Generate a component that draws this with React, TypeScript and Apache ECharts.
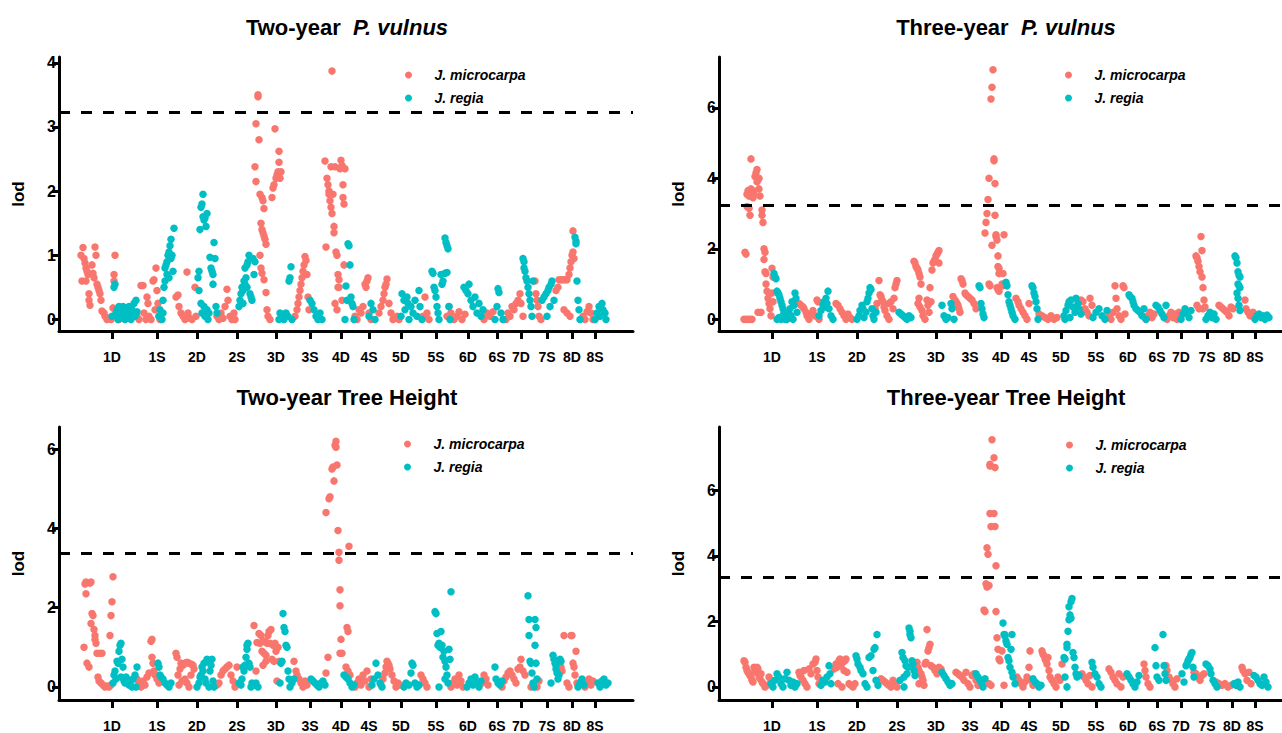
import React, { useEffect, useRef } from "react";
import * as echarts from "echarts";

const RED = "#F8766D";
const TEAL = "#00BFC4";
const FONT = "Arial, 'Liberation Sans', Helvetica, sans-serif";

// chromosome tick positions (cumulative position units) and labels
const chromTicks = [53, 98, 138, 178, 217, 251, 282, 310, 342, 377, 409, 438, 462, 488, 513, 536];
const chromLabels = ["1D", "1S", "2D", "2S", "3D", "3S", "4D", "4S", "5D", "5S", "6D", "6S", "7D", "7S", "8D", "8S"];

const panelTitles = [
  ["Two-year  ", "P. vulnus"],
  ["Three-year  ", "P. vulnus"],
  ["Two-year Tree Height", ""],
  ["Three-year Tree Height", ""],
];
const thresholds = [3.23, 3.23, 3.38, 3.35];
const yTickValues = [[0, 1, 2, 3, 4], [0, 2, 4, 6], [0, 2, 4, 6], [0, 2, 4, 6]];
const yRanges = [[-0.18, 4.09], [-0.33, 7.44], [-0.33, 6.56], [-0.4, 7.94]];
const xMaxes = [574, 563, 574, 563];

// ---------- Two-year P. vulnus ----------
const tlRed = [[22,1.0],[23,0.6],[24,1.12],[25,0.95],[26,0.88],[27,0.8],[27,0.6],[28,0.75],[29,0.7],[30,0.4],[30,0.3],[31,0.22],[33,0.85],[34,0.72],[35,0.65],[36,1.13],[37,1.0],[38,0.55],[39,0.5],[40,0.45],[41,0.4],[42,0.3],[43,0.13],[45,0.1],[46,0.05],[48,0.0],[50,0.02],[52,0.0],[54,0.18],[55,0.6],[55,0.7],[56,1.0],[58,0.05],[60,0.0],
[78,0.05],[80,0.0],[82,0.53],[84,0.53],[85,0.1],[87,0.0],[88,0.35],[89,0.25],[90,0.05],[92,0.0],[94,0.6],[95,0.62],[96,0.15],[97,0.8],[98,0.45],[99,0.25],[100,0.05],[101,0.0],
[117,0.35],[119,0.38],[120,0.2],[122,0.1],[124,0.05],[126,0.0],[128,0.74],[129,0.1],[131,0.02],[133,0.0],[136,0.5],[137,0.05],
[158,0.05],[160,0.0],[162,0.1],[164,0.02],[166,0.2],[168,0.47],[169,0.3],[171,0.05],[173,0.0],[175,0.1],[176,0.0],
[196,2.38],[197,2.15],[197,3.05],[199,3.5],[199,3.47],[200,2.8],[201,1.95],[203,1.9],[204,1.85],[205,1.73],[202,1.5],[203,1.4],[204,1.35],[205,1.3],[206,1.25],[207,1.17],[201,1.0],[202,0.8],[203,0.72],[205,0.62],[207,0.42],[208,0.15],[209,0.05],[211,0.0],
[213,1.9],[214,2.05],[215,2.1],[216,2.97],[217,2.2],[218,2.25],[219,2.3],[220,2.62],[220,2.45],[221,2.2],[222,2.3],
[236,0.05],[238,0.15],[239,0.25],[240,0.35],[241,0.45],[242,0.55],[243,0.65],[244,0.75],[245,0.85],[246,0.98],[247,0.92],[248,0.7],[249,0.35],[250,0.15],
[266,2.47],[267,1.13],[268,2.2],[269,2.1],[270,2.0],[270,1.95],[271,1.85],[272,1.75],[272,2.38],[273,3.87],[273,1.65],[274,1.95],[275,1.45],[275,1.35],[276,2.38],[277,1.05],[278,1.0],[279,0.7],[279,0.5],[280,0.62],[281,2.35],[282,2.48],[283,2.4],[283,0.3],[284,2.1],[284,1.9],[285,1.8],[285,0.85],[286,2.35],[276,0.25],[278,0.15],[280,0.5],
[296,0.05],[298,0.0],[300,0.15],[302,0.1],[304,0.2],[306,0.55],[307,0.5],[308,0.6],[309,0.65],[310,0.1],[312,0.0],
[320,0.1],[322,0.2],[324,0.3],[325,0.4],[326,0.5],[327,0.55],[328,0.63],[330,0.25],[332,0.1],[334,0.0],[338,0.05],[340,0.0],
[364,0.05],[366,0.35],[368,0.1],[370,0.0],
[388,0.05],[390,0.2],[392,0.1],[395,0.0],[398,0.05],[400,0.12],[403,0.0],[406,0.08],
[425,0.0],[428,0.1],[431,0.05],[434,0.12],
[447,0.0],[449,0.1],[451,0.05],[453,0.2],[455,0.15],[457,0.25],[459,0.3],[461,0.4],[462,0.25],[464,0.05],
[476,0.6],[477,0.4],[478,0.3],[479,0.2],[480,0.05],[482,0.0],
[497,0.45],[499,0.5],[500,0.62],[502,0.62],[504,0.62],[506,0.62],[508,0.62],[510,0.7],[511,0.8],[512,0.9],[513,1.0],[514,1.05],[514,1.38],[515,0.95],[505,0.15],[508,0.1],[511,0.05],
[524,0.05],[526,0.0],[528,0.12],[530,0.2],[532,0.1],[534,0.0]];

const tlTeal = [[53,0.05],[55,0.5],[56,0.55],[57,0.1],[58,0.15],[59,0.0],[60,0.2],[61,0.05],[62,0.1],[63,0.15],[64,0.2],[65,0.05],[66,0.0],[67,0.12],[68,0.18],[69,0.08],[70,0.2],[71,0.1],[72,0.0],[73,0.15],[75,0.25],[76,0.05],[77,0.3],[78,0.12],
[103,0.0],[104,0.1],[104,0.3],[105,0.5],[106,0.6],[106,0.8],[107,0.85],[108,0.9],[108,0.7],[109,1.0],[110,1.05],[110,0.65],[111,1.15],[112,1.25],[112,0.95],[113,1.0],[114,0.75],[115,1.42],[100,0.05],[101,0.15],
[140,0.75],[139,0.65],[141,1.4],[142,1.75],[143,1.8],[144,1.95],[144,1.6],[145,1.55],[146,1.58],[147,1.45],[148,1.65],[140,0.45],[142,0.25],[143,0.1],[145,0.2],[146,0.05],[148,0.15],[149,0.0],[150,0.1],
[151,0.97],[152,0.8],[153,0.75],[154,0.7],[154,0.55],[155,1.2],[156,0.95],[157,0.2],[158,0.1],
[180,0.2],[181,0.3],[182,0.4],[183,0.5],[184,0.45],[185,0.6],[186,0.55],[186,0.8],[187,0.65],[188,0.85],[188,0.5],[189,0.9],[190,1.0],[191,0.4],[192,0.35],[193,0.3],[194,0.95],[195,0.7],[196,0.9],[184,0.25],
[220,0.0],[221,0.1],[223,0.05],[225,0.0],[227,0.1],[229,0.05],[230,0.6],[231,0.65],[232,0.82],[233,0.0],
[251,0.3],[253,0.25],[255,0.15],[257,0.05],[259,0.0],[261,0.1],[263,0.0],
[287,0.52],[288,0.3],[289,1.18],[290,1.15],[291,0.85],[292,0.35],[293,0.25],[294,0.2],[295,0.0],[286,0.0],
[310,0.05],[312,0.25],[314,0.15],[316,0.0],
[342,0.05],[343,0.4],[345,0.3],[346,0.15],[348,0.35],[349,0.25],[350,0.0],[352,0.2],[354,0.1],[356,0.3],[358,0.05],[360,0.45],[361,0.2],[363,0.0],
[373,0.75],[374,0.72],[375,0.5],[376,0.45],[377,0.35],[378,0.2],[379,0.1],[380,0.0],[382,0.7],[383,0.55],[384,0.6],[386,1.27],[387,1.2],[388,1.15],[389,1.1],[386,0.72],[388,0.73],[390,0.2],[391,0.0],
[405,0.5],[407,0.45],[409,0.4],[410,0.55],[412,0.3],[414,0.2],[416,0.35],[418,0.1],[420,0.25],[422,0.05],[424,0.15],
[436,0.0],[438,0.2],[439,0.48],[440,0.42],[442,0.1],[444,0.0],
[464,0.95],[465,0.9],[465,0.8],[466,0.75],[467,0.65],[468,0.6],[469,0.5],[470,0.4],[471,0.3],[472,0.2],[473,0.05],[474,0.6],
[483,0.3],[485,0.35],[487,0.4],[488,0.05],[489,0.45],[490,0.5],[491,0.2],[492,0.55],[493,0.6],[495,0.3],
[516,1.28],[517,1.22],[517,1.18],[518,0.6],[519,0.3],[520,0.15],[521,0.0],
[536,0.0],[538,0.1],[540,0.2],[541,0.05],[543,0.25],[544,0.15],[546,0.1],[547,0.0]];

// ---------- Three-year P. vulnus ----------
const trRed = [[25,0.0],[27,0.0],[29,0.0],[31,0.0],[33,0.0],[26,1.9],[27,1.85],[28,3.2],[28,3.55],[29,3.65],[30,3.5],[30,3.15],[31,2.95],[32,4.55],[32,3.7],[33,3.6],[34,3.45],[34,3.65],[35,3.55],[36,4.05],[37,4.15],[38,4.25],[38,3.9],[39,3.95],[40,4.0],[40,3.7],[41,3.5],[39,0.2],[42,0.2],[43,3.1],[43,2.95],[44,2.75],[45,2.0],[46,1.9],[45,1.7],[46,1.35],[47,1.3],[47,1.0],[48,0.8],[49,0.6],[50,0.45],[51,0.3],[52,0.1],[53,1.45],[54,1.2],[53,0.75],[54,0.5],
[80,0.45],[82,0.4],[84,0.35],[85,0.3],[87,0.2],[88,0.1],[90,0.0],[92,0.15],[94,0.25],[96,0.1],[98,0.55],[99,0.5],[100,0.0],
[117,0.45],[119,0.4],[121,0.3],[123,0.2],[125,0.1],[127,0.0],[129,0.15],[131,0.05],[133,0.0],
[156,0.3],[158,0.45],[160,1.1],[161,0.7],[162,0.65],[163,0.55],[164,0.5],[165,0.35],[166,0.25],[168,0.1],[170,0.45],[172,0.5],[174,0.3],[175,0.6],[176,0.9],[177,1.0],[178,1.1],[170,0.0],
[195,1.65],[196,1.6],[197,1.5],[198,1.45],[199,1.4],[200,1.3],[201,1.2],[202,1.0],[200,0.6],[199,0.45],[201,0.35],[203,0.25],[204,0.1],[206,0.0],[208,0.55],[209,0.4],[210,0.2],
[211,0.9],[213,1.4],[214,1.6],[215,1.65],[216,1.7],[217,1.8],[218,1.85],[219,1.9],[220,1.95],[220,1.6],[212,0.5],
[234,0.65],[236,0.55],[237,0.5],[238,0.45],[239,0.4],[240,0.3],[241,0.2],[242,1.15],[243,1.1],[244,1.0],[246,0.75],[247,0.7],[249,0.65],[251,0.6],[253,0.55],[255,0.45],[257,0.3],
[266,2.45],[267,2.75],[268,3.0],[269,3.4],[270,4.0],[270,1.0],[271,0.95],[272,6.25],[273,2.1],[273,6.58],[274,7.08],[275,4.55],[275,4.5],[276,3.85],[276,2.95],[277,2.4],[277,2.35],[278,2.25],[279,1.8],[279,1.5],[280,1.45],[280,1.3],[278,0.9],[279,0.85],[280,0.8],[285,2.4],[284,1.3],[283,1.0],[284,0.95],
[297,0.6],[299,0.5],[300,0.4],[302,0.3],[304,0.2],[306,0.1],[308,0.0],[310,0.45],
[320,0.15],[323,0.1],[326,0.05],[329,0.0],[332,0.1],[335,0.0],[338,0.05],
[362,0.55],[364,0.5],[366,0.3],[368,0.2],[370,0.1],[371,0.6],[373,0.4],
[390,0.1],[392,0.0],[394,0.2],[396,0.95],[397,0.6],[398,0.3],[400,0.1],[402,0.0],[404,0.95],[405,0.9],[406,0.15],
[427,0.0],[429,0.1],[431,0.2],[433,0.05],[435,0.15],
[448,0.0],[450,0.1],[452,0.2],[454,0.05],[456,0.15],[458,0.0],[460,0.2],
[477,1.8],[478,1.75],[479,1.65],[480,1.5],[481,1.35],[482,2.35],[483,1.95],[483,1.2],[484,0.9],[485,0.55],[486,0.35],[484,0.3],[478,0.4],[480,0.3],
[500,0.4],[502,0.35],[504,0.3],[506,0.25],[508,0.2],[510,0.1],[512,0.35],[514,0.3],
[526,0.55],[527,0.3],[529,0.2],[531,0.1],[534,0.2]];

const trTeal = [[55,1.3],[56,1.2],[57,1.15],[58,0.8],[59,0.75],[60,0.7],[61,0.6],[62,0.5],[63,0.4],[64,0.3],[65,0.2],[66,0.0],[58,0.0],[60,0.05],[62,0.0],[64,0.1],[68,0.0],[70,0.15],[71,0.3],[72,0.1],[73,0.5],[74,0.0],[75,0.4],[76,0.75],[77,0.6],[78,0.2],
[100,0.1],[102,0.25],[104,0.4],[105,0.5],[106,0.35],[107,0.6],[108,0.45],[109,0.8],[110,0.3],[112,0.1],[114,0.0],
[138,0.0],[140,0.1],[141,0.25],[143,0.4],[144,0.3],[145,0.05],[147,0.2],[148,0.5],[149,0.6],[150,0.75],[151,0.9],[152,0.85],[153,0.3],[154,0.1],[155,0.0],[157,0.2],
[180,0.2],[182,0.15],[184,0.1],[186,0.05],[188,0.0],[190,0.1],[192,0.05],
[223,0.4],[225,0.1],[227,0.0],[229,0.05],[232,0.45],[233,0.3],[235,0.0],
[260,0.95],[261,0.9],[262,0.45],[263,0.3],[264,0.15],[265,0.05],
[287,1.05],[288,0.95],[289,0.7],[290,0.5],[291,0.4],[292,0.3],[293,0.2],[294,0.1],[296,0.0],
[313,0.95],[314,0.9],[315,0.75],[316,0.65],[317,0.5],[318,0.3],[319,0.0],
[345,0.1],[347,0.25],[349,0.4],[350,0.5],[352,0.55],[354,0.35],[356,0.2],[357,0.6],[359,0.45],[360,0.3],[362,0.15],[346,0.0],[351,0.05],
[374,0.05],[377,0.2],[380,0.3],[383,0.1],[386,0.0],[388,0.25],
[410,0.7],[411,0.65],[413,0.6],[414,0.5],[415,0.4],[417,0.3],[419,0.25],[421,0.2],[423,0.1],[425,0.3],[427,0.0],
[437,0.4],[439,0.35],[441,0.25],[443,0.15],[445,0.05],[447,0.4],
[462,0.0],[464,0.15],[466,0.3],[468,0.2],[470,0.05],[472,0.25],
[487,0.0],[489,0.1],[491,0.2],[493,0.05],[495,0.15],[497,0.0],
[516,1.8],[517,1.75],[518,1.6],[519,1.35],[520,1.25],[521,1.2],[519,1.0],[520,0.95],[521,0.9],[518,0.75],[519,0.6],[520,0.4],[521,0.25],
[536,0.0],[538,0.1],[540,0.15],[542,0.05],[544,0.1],[546,0.0],[548,0.12],[550,0.05]];

// ---------- Two-year Tree Height ----------
const blRed = [[25,1.0],[26,2.6],[27,2.65],[27,2.35],[28,0.6],[30,0.5],[31,2.62],[32,2.65],[32,1.6],[33,1.85],[34,1.8],[35,1.45],[36,1.3],[36,1.2],[37,1.1],[38,0.85],[41,0.85],[43,0.85],[39,0.25],[40,0.15],[42,0.1],[44,0.05],[46,0.0],[48,0.02],[50,0.0],[52,0.05],[51,1.3],[52,1.8],[53,2.15],[54,2.78],
[78,0.2],[80,0.1],[82,0.0],[84,0.15],[86,0.05],[88,0.25],[90,0.35],[92,1.15],[93,1.2],[93,0.75],[94,0.6],[95,0.4],[96,0.3],[98,0.2],[100,0.1],
[117,0.85],[118,0.75],[119,0.3],[121,0.45],[122,0.6],[124,0.55],[126,0.6],[128,0.62],[130,0.6],[132,0.58],[134,0.55],[135,0.45],[126,0.2],[128,0.1],[130,0.0],[132,0.3],[120,0.05],[123,0.15],
[158,0.05],[160,0.1],[162,0.3],[164,0.4],[166,0.45],[168,0.5],[170,0.55],[172,0.3],[174,0.15],[176,0.0],[178,0.5],
[195,1.55],[197,0.4],[198,1.12],[200,1.35],[201,1.1],[202,1.3],[203,0.9],[204,1.15],[205,0.85],[206,1.15],[207,0.8],[208,1.1],[209,1.3],[210,1.4],[211,1.1],[212,1.45],[213,0.7],[214,1.05],[215,0.65],[216,1.1],[217,0.9],[218,0.15],[219,1.0],[220,0.65],[204,0.55],[207,0.65],
[235,0.65],[237,0.4],[238,0.3],[240,0.2],[242,0.1],[244,0.0],[246,0.15],[248,0.05],
[267,0.35],[269,0.75],[267,4.4],[270,4.75],[271,4.8],[273,5.5],[274,5.55],[275,5.2],[276,6.1],[277,6.2],[277,6.05],[278,5.6],[279,3.95],[280,3.4],[280,3.2],[281,2.45],[281,2.05],[282,1.2],[281,0.85],[283,0.85],[288,1.5],[289,1.4],[290,3.55],[287,0.5],[289,0.4],[291,0.3],
[296,0.0],[298,0.1],[300,0.2],[302,0.05],[304,0.3],[306,0.15],[308,0.4],[310,0.0],[312,0.2],
[322,0.05],[324,0.2],[326,0.35],[327,0.5],[328,0.65],[329,0.6],[330,0.55],[331,0.45],[333,0.3],[335,0.15],[337,0.0],[339,0.1],[341,0.05],
[360,0.05],[362,0.3],[364,0.2],[366,0.1],[368,0.0],
[392,0.0],[394,0.1],[396,0.2],[398,0.05],[400,0.3],[402,0.15],[404,0.0],
[423,0.1],[425,0.3],[427,0.2],[429,0.05],
[443,0.0],[445,0.15],[447,0.25],[449,0.35],[451,0.4],[453,0.3],[455,0.2],[457,0.1],[459,0.45],[461,0.5],[462,0.7],[464,0.4],[466,0.3],
[472,0.0],[474,0.05],[476,0.1],[478,0.0],[480,0.15],
[500,0.6],[502,0.5],[503,0.4],[505,1.3],[508,0.1],[510,0.0],[512,1.3],[513,1.3],[514,0.6],[515,0.5],[517,0.9],[516,0.3],[518,0.1],
[526,0.0],[528,0.1],[530,0.2],[532,0.05],[534,0.15]];

const blTeal = [[54,0.1],[55,0.3],[56,0.4],[57,0.2],[58,0.65],[59,0.6],[60,0.9],[61,1.05],[62,1.1],[63,0.7],[64,0.5],[62,0.25],[65,0.15],[66,0.1],[67,0.25],[68,0.2],[70,0.05],[72,0.15],[74,0.2],[76,0.3],[78,0.5],[77,0.0],[73,0.0],
[99,0.6],[100,0.5],[101,0.3],[102,0.25],[104,0.2],[106,0.1],[108,0.05],[110,0.0],[112,0.1],
[138,0.0],[140,0.1],[141,0.25],[142,0.3],[143,0.5],[144,0.4],[145,0.6],[146,0.2],[147,0.1],[148,0.7],[149,0.65],[150,0.0],[151,0.4],[152,0.55],[153,0.7],[154,0.15],[155,0.0],
[180,0.1],[182,0.05],[183,0.2],[184,0.5],[185,0.4],[186,0.55],[187,0.75],[188,0.95],[188,1.05],[189,1.1],[190,0.6],[191,0.5],[192,0.0],[193,0.1],[195,0.05],[197,0.1],[199,0.0],
[221,0.1],[222,0.6],[223,0.65],[224,1.85],[225,1.5],[226,1.4],[227,1.05],[228,1.0],[229,0.4],[230,0.2],[231,0.0],[233,0.1],[235,0.2],
[252,0.2],[254,0.15],[256,0.1],[258,0.05],[260,0.0],[262,0.1],[264,0.15],[266,0.05],
[285,0.3],[287,0.25],[289,0.2],[291,0.1],[293,0.0],[295,0.05],
[313,0.05],[315,0.2],[317,0.6],[319,0.3],[321,0.1],[323,0.0],
[345,0.0],[347,0.1],[350,0.05],[352,0.35],[353,0.6],[354,0.55],[356,0.1],[358,0.0],[360,0.05],
[376,1.9],[377,1.85],[378,1.35],[379,1.05],[380,1.1],[381,1.0],[382,1.4],[383,1.05],[384,0.75],[385,0.9],[386,0.65],[387,0.5],[388,0.3],[389,0.1],[390,0.95],[391,0.7],[392,2.4],[380,0.0],[386,0.2],
[408,0.0],[410,0.1],[412,0.2],[414,0.05],[416,0.25],[418,0.1],[420,0.0],[422,0.15],
[436,0.5],[437,0.2],[439,0.1],[441,0.05],[443,0.15],
[469,2.3],[470,1.7],[470,1.3],[471,0.65],[472,0.6],[473,0.35],[474,0.1],[475,0.0],[476,1.7],[477,1.5],[476,1.05],[477,0.6],[478,0.2],
[494,0.8],[495,0.7],[496,0.6],[497,0.55],[497,0.45],[498,0.35],[499,0.2],[500,0.3],[501,0.7],[502,0.65],[492,0.1],
[519,0.0],[521,0.1],[523,0.2],[525,0.05],
[539,0.1],[541,0.0],[543,0.15],[545,0.2],[547,0.05],[549,0.1]];

// ---------- Three-year Tree Height ----------
const brRed = [[25,0.8],[26,0.75],[27,0.6],[28,0.5],[29,0.45],[30,0.4],[31,0.35],[32,0.3],[33,0.2],[34,0.15],[35,0.6],[36,0.5],[37,0.45],[38,0.6],[39,0.55],[40,0.3],[41,0.25],[42,0.4],[43,0.15],[44,0.1],[46,0.0],[48,0.05],[50,0.3],[52,0.2],
[80,0.45],[81,0.35],[82,0.3],[84,0.2],[85,0.5],[86,0.1],[88,0.0],[90,0.55],[92,0.4],[94,0.7],[96,0.75],[97,0.85],[98,0.5],[99,0.3],[100,0.1],
[115,0.55],[117,0.7],[118,0.6],[120,0.8],[121,0.85],[122,0.65],[124,0.75],[125,0.5],[126,0.8],[127,0.85],[128,0.45],[130,0.1],[132,0.05],[134,0.0],[136,0.1],[119,0.1],[123,0.0],
[162,0.25],[164,0.2],[166,0.15],[168,0.1],[170,0.05],[172,0.0],[174,0.2],[176,0.1],[178,0.0],
[198,0.75],[199,0.6],[200,0.5],[202,0.4],[203,0.3],[204,0.2],[206,0.7],[207,0.75],[208,1.75],[209,1.1],[210,1.2],[211,1.3],[212,0.65],[214,0.6],[216,0.5],[218,0.4],[220,0.6],[222,0.55],[200,0.1],[205,0.05],
[237,0.45],[239,0.4],[241,0.35],[243,0.3],[245,0.2],[247,0.45],[249,0.1],[251,0.0],[253,0.35],[255,0.4],[257,0.2],[259,0.05],
[265,2.35],[266,2.3],[267,3.15],[268,4.25],[269,4.05],[268,3.05],[270,3.1],[271,6.8],[271,6.75],[271,5.3],[272,4.9],[273,7.55],[275,7.0],[275,5.3],[276,4.9],[276,6.7],[277,3.7],[277,2.3],[278,1.5],[279,1.15],[280,0.85],[281,0.8],[270,0.1],[272,0.05],[283,1.1],[286,1.6],[285,0.05],
[298,0.3],[300,0.2],[302,0.1],[304,0.0],[306,0.15],[308,0.3],[310,0.6],[311,1.1],[312,0.2],[314,0.05],
[323,1.1],[324,1.0],[325,0.95],[326,0.85],[327,0.8],[328,0.7],[329,0.9],[330,0.5],[331,0.3],[333,0.2],[335,0.1],[337,0.0],[339,0.3],[341,0.2],[343,0.7],
[363,0.4],[365,0.3],[367,0.2],[369,0.1],[371,0.35],[373,0.0],
[390,0.55],[392,0.45],[394,0.3],[396,0.2],[398,0.1],[400,0.4],[402,0.0],[404,0.3],
[425,0.7],[426,0.5],[427,0.3],[429,0.1],[431,0.0],
[447,0.65],[448,0.5],[450,0.3],[452,0.2],[454,0.1],[456,0.0],[458,0.25],
[475,0.45],[477,0.4],[479,0.3],[481,0.2],[483,0.35],[485,0.4],
[497,0.15],[500,0.1],[503,0.05],[506,0.1],[509,0.0],[512,0.05],
[523,0.6],[524,0.5],[526,0.4],[528,0.2],[530,0.45],[532,0.1]];

const brTeal = [[52,0.1],[54,0.0],[56,0.2],[58,0.4],[60,0.3],[62,0.1],[64,0.0],[66,0.25],[68,0.45],[70,0.2],[72,0.05],[74,0.15],[76,0.0],[78,0.1],
[102,0.05],[104,0.2],[106,0.15],[108,0.3],[110,0.65],[111,0.4],[112,0.1],
[137,0.95],[138,0.85],[139,0.7],[141,0.6],[142,0.5],[144,0.4],[146,0.1],[148,0.0],[150,0.9],[152,0.95],[154,0.5],[155,1.15],[156,1.2],[157,0.2],[158,1.6],[159,0.05],
[181,0.2],[183,1.05],[184,0.9],[185,0.3],[186,0.8],[187,0.65],[188,0.4],[189,0.6],[190,1.8],[191,1.7],[191,1.6],[192,1.5],[193,0.8],[194,0.7],[195,0.5],[196,0.35],[185,0.0],
[223,0.45],[225,0.35],[227,0.25],[229,0.15],[231,0.05],[233,0.1],
[257,0.4],[259,0.3],[261,0.2],[263,0.1],[264,0.0],[266,0.25],
[284,1.95],[285,1.6],[286,1.55],[287,1.4],[288,1.3],[289,0.9],[290,0.8],[291,0.6],[292,1.15],[293,0.45],[294,0.3],[296,0.1],[293,1.6],
[314,0.25],[316,0.15],[318,0.1],[320,0.0],[322,0.05],
[345,0.9],[346,0.85],[348,1.3],[348,1.2],[349,1.7],[350,2.05],[351,2.2],[350,2.45],[352,2.6],[353,2.7],[352,2.1],[354,1.05],[355,0.9],[356,0.6],[357,0.4],[358,0.3],[360,0.35],[346,0.3],[348,0.0],
[373,0.75],[374,0.6],[376,0.4],[378,0.3],[380,0.1],[382,0.0],
[408,0.4],[410,0.3],[412,0.2],[414,0.1],[416,0.0],[418,0.15],[420,0.35],
[436,1.2],[437,0.65],[438,0.3],[440,0.2],[444,1.6],[445,0.65],[446,0.4],[447,0.2],
[463,0.4],[465,0.15],[467,0.65],[468,0.7],[469,0.8],[470,0.85],[471,0.9],[472,1.0],[473,1.05],[474,0.6],[475,0.3],
[487,0.7],[489,0.65],[491,0.55],[492,0.4],[494,0.2],[496,0.1],[498,0.0],
[515,0.1],[517,0.05],[519,0.15],[521,0.0],
[535,0.35],[537,0.3],[539,0.2],[541,0.1],[543,0.05],[545,0.3],[547,0.15],[549,0.0]];

const redSets = [tlRed, trRed, blRed, brRed];
const tealSets = [tlTeal, trTeal, blTeal, brTeal];

// layout
const grids = [
  { left: 59, top: 57, width: 574, height: 274 },
  { left: 719, top: 57, width: 563, height: 274 },
  { left: 59, top: 427, width: 574, height: 274 },
  { left: 719, top: 427, width: 563, height: 274 },
];
const titlePos = [[347, 27], [1006, 27], [347, 397], [1006, 397]];
const legendPos = [[405, 67], [1065, 67], [404, 436], [1066, 437]];

export default function App() {
  const ref = useRef<HTMLDivElement>(null);
  useEffect(() => {
    if (!ref.current) return;
    const chart = echarts.init(ref.current, null, { renderer: "svg" });
    const axisColor = "#000";
    const xAxes = grids.map((_, i) => ({
      type: "value",
      gridIndex: i,
      min: 0,
      max: xMaxes[i],
      axisLine: { show: true, onZero: false, lineStyle: { color: axisColor, width: 3 } },
      axisTick: { show: true, length: 8, lineStyle: { color: axisColor, width: 3 }, customValues: chromTicks },
      axisLabel: {
        show: true,
        customValues: chromTicks,
        margin: 19,
        color: "#000",
        fontWeight: "bold",
        fontSize: 14,
        fontFamily: FONT,
        formatter: (v: number) => {
          const k = chromTicks.indexOf(v);
          return k >= 0 ? chromLabels[k] : "";
        },
      },
      splitLine: { show: false },
    }));
    const yAxes = grids.map((_, i) => ({
      type: "value",
      gridIndex: i,
      min: yRanges[i][0],
      max: yRanges[i][1],
      name: "lod",
      nameLocation: "middle",
      nameGap: 32,
      nameTextStyle: { color: "#000", fontWeight: "bold", fontSize: 17, fontFamily: FONT },
      axisLine: { show: true, onZero: false, lineStyle: { color: axisColor, width: 3 } },
      axisTick: { show: true, length: 7, lineStyle: { color: axisColor, width: 3 }, customValues: yTickValues[i] },
      axisLabel: {
        show: true,
        customValues: yTickValues[i],
        margin: 3,
        color: "#000",
        fontWeight: "bold",
        fontSize: 16,
        fontFamily: FONT,
      },
      splitLine: { show: false },
    }));
    const series: any[] = [];
    grids.forEach((_, i) => {
      series.push({
        type: "scatter",
        name: "J. microcarpa",
        xAxisIndex: i,
        yAxisIndex: i,
        data: redSets[i],
        symbol: "circle",
        symbolSize: 7.5,
        itemStyle: { color: RED, opacity: 1 },
        markLine: {
          silent: true,
          symbol: ["none", "none"],
          label: { show: false },
          lineStyle: { color: "#000", width: 3, type: [11, 11] },
          emphasis: { disabled: true },
          data: [{ yAxis: thresholds[i] }],
        },
      });
      series.push({
        type: "scatter",
        name: "J. regia",
        xAxisIndex: i,
        yAxisIndex: i,
        data: tealSets[i],
        symbol: "circle",
        symbolSize: 7.5,
        itemStyle: { color: TEAL, opacity: 1 },
      });
    });
    const legends = legendPos.map(([l, t]) => ({
      orient: "vertical",
      left: l,
      top: t,
      padding: 0,
      itemWidth: 42,
      itemHeight: 7,
      itemGap: 7,
      icon: "circle",
      selectedMode: false,
      data: ["J. microcarpa", "J. regia"],
      textStyle: { color: "#000", fontStyle: "italic", fontWeight: "bold", fontSize: 14, fontFamily: FONT, lineHeight: 16 },
    }));
    const graphics = panelTitles.map(([a, b], i) => ({
      type: "text",
      x: titlePos[i][0],
      y: titlePos[i][1],
      style: {
        text: b ? `{a|${a}}{b|${b}}` : `{a|${a}}`,
        align: "center",
        verticalAlign: "middle",
        fill: "#000",
        font: `bold 22px ${FONT}`,
        rich: {
          a: { fontSize: 22, fontWeight: "bold", fontFamily: FONT, fill: "#000" },
          b: { fontSize: 22, fontWeight: "bold", fontStyle: "italic", fontFamily: FONT, fill: "#000" },
        },
      },
    }));
    chart.setOption({
      animation: false,
      backgroundColor: "#fff",
      grid: grids,
      xAxis: xAxes,
      yAxis: yAxes,
      legend: legends,
      series,
      graphic: graphics,
    });
    return () => chart.dispose();
  }, []);
  return <div ref={ref} style={{ position: "fixed", left: 0, top: 0, width: 1282, height: 733 }} />;
}
